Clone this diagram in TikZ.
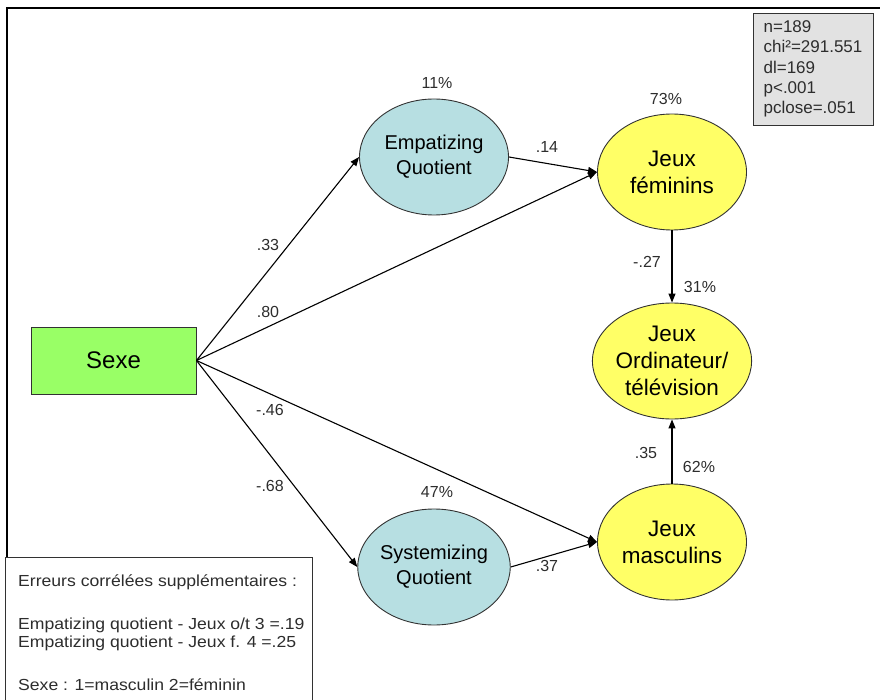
\documentclass[tikz,border=0pt]{standalone}
\usepackage{fontspec}
\setmainfont{Liberation Sans}
\newfontfamily\widesans[FakeStretch=1.1]{Liberation Sans}
\usetikzlibrary{shapes.geometric,arrows.meta}
\definecolor{eqblue}{RGB}{183,223,226}
\definecolor{jyellow}{RGB}{255,255,102}
\definecolor{sgreen}{RGB}{153,255,102}
\definecolor{statgray}{RGB}{226,226,226}
\definecolor{edgegray}{RGB}{50,50,50}
\definecolor{labgray}{RGB}{45,45,45}
\begin{document}
\begin{tikzpicture}[x=1pt,y=-1pt,
  latent/.style={ellipse, draw=edgegray, line width=0.9pt, minimum width=149pt, minimum height=116pt, inner sep=0pt, align=center},
  eqnode/.style={latent, fill=eqblue, font=\fontsize{20}{25}\selectfont},
  jnode/.style={latent, fill=jyellow, font=\fontsize{22.5}{27}\selectfont},
  conn/.style={draw=black, line width=1.1pt, -{Triangle[length=9pt,width=7pt]}},
  lab/.style={font=\fontsize{16}{18}\selectfont, text=labgray, inner sep=0pt},
  note/.style={font=\widesans\fontsize{16}{18}\selectfont, text=labgray, inner sep=0pt, anchor=west}
]
\useasboundingbox (0,0) rectangle (880,700);
% outer frame
\coordinate (fbl) at (7,700);
\coordinate (ftl) at (7,8);
\coordinate (ftr) at (880,8);
\draw[line width=1.3pt] (fbl) -- (ftl) -- (ftr);

% nodes
\node[draw=edgegray, line width=0.9pt, fill=sgreen, minimum width=165pt, minimum height=67pt, inner sep=0pt, font=\fontsize{24}{28}\selectfont] (sexe) at (113.5,360.5) {Sexe};
\node[eqnode] (eq) at (434,157) {Empatizing\\Quotient};
\node[eqnode] (sq) at (434,567) {Systemizing\\Quotient};
\node[jnode] (jf) at (672,172) {Jeux\\féminins};
\node[jnode] (jo) at (672,361) {Jeux\\Ordinateur/\\télévision};
\node[jnode] (jm) at (672,542) {Jeux\\masculins};

% connectors
\draw[conn] (sexe.east) -- (eq.west);
\draw[conn] (sexe.east) -- (jf.west);
\draw[conn] (sexe.east) -- (jm.west);
\draw[conn] (sexe.east) -- (sq.west);
\draw[conn] (eq.east) -- (jf.west);
\draw[conn] (sq.east) -- (jm.west);
\draw[conn] (jf.south) -- (jo.north);
\draw[conn] (jm.north) -- (jo.south);

% labels
\node[lab] (l11) at (437,83) {11\%};
\node[lab] (l73) at (666,99) {73\%};
\node[lab] (l47) at (437,492) {47\%};
\node[lab] (l31) at (700,287) {31\%};
\node[lab] (l62) at (699,467) {62\%};
\node[lab] (l27) at (647,262) {-.27};
\node[lab] (l35) at (646,453) {.35};
\node[lab] (l33) at (268,245) {.33};
\node[lab] (l80) at (268,312) {.80};
\node[lab] (l46) at (270,410) {-.46};
\node[lab] (l68) at (270,486) {-.68};
\node[lab] (l14) at (547,147) {.14};
\node[lab] (l37) at (547,566) {.37};

% stats box
\node[draw=edgegray, line width=0.9pt, fill=statgray, minimum width=120pt, minimum height=112pt, inner sep=0pt, align=left, font=\fontsize{17}{20.2}\selectfont, text=labgray] (stats) at (813,69) {n=189\\chi²=291.551\\dl=169\\p<.001\\pclose=.051};

% notes box
\draw[draw=edgegray, line width=0.9pt, fill=white] (5,704) rectangle (312,557);
\node[note] (n1) at (18,582) {Erreurs corrélées supplémentaires :};
\node[note] (n2) at (18,625) {Empatizing quotient - Jeux o/t 3 =.19};
\node[note] (n3) at (18,643) {Empatizing quotient - Jeux f. 4 =.25};
\node[note] (n4) at (18,685) {Sexe : 1=masculin 2=féminin};
\end{tikzpicture}
\end{document}
